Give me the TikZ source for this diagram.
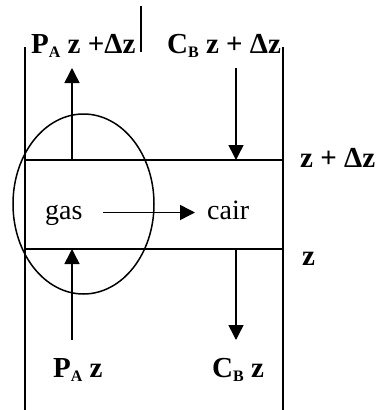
\documentclass[tikz,border=0pt]{standalone}
\usepackage{fontspec}
\setmainfont{Liberation Serif}
\usetikzlibrary{arrows.meta,positioning}

\newcommand{\lowsub}[1]{\raisebox{-4pt}{\fontsize{16}{16}\selectfont #1}}

\begin{document}
\begin{tikzpicture}[x=1pt, y=-1pt,
    every node/.style={font=\fontsize{28}{30}\selectfont, inner sep=0pt},
    lbl/.style={font=\fontsize{29}{30}\selectfont\bfseries, anchor=base west},
    fluid/.style={anchor=base west, text height=19pt, text depth=6pt},
    wall/.style={line width=1.5pt},
    arr/.style={line width=1.5pt, -{Triangle[length=15pt,width=15pt]}}
]
    \useasboundingbox (0,0) rectangle (381,410);

    % column walls and film boundaries
    \draw[wall] (25,47) -- (25,410);
    \draw[wall] (283,47) -- (283,410);
    \draw[wall] (141,6) -- (141,52);
    \draw[wall] (25,160) -- (283,160);
    \draw[wall] (25,249) -- (283,249);
    \draw[wall] (83.5,204) ellipse [x radius=70.5pt, y radius=90pt];

    % labels
    \node[lbl] (patop) at (31,53) {P\lowsub{A} z +Δz};
    \node[lbl] (cbtop) at (167,53) {C\lowsub{B} z + Δz};
    \node[lbl] (pabot) at (53,377) {P\lowsub{A} z};
    \node[lbl] (cbbot) at (212,377) {C\lowsub{B} z};
    \node[lbl] (zdz) at (300,167) {z + Δz};
    \node[lbl] (zlev) at (302,265) {z};
    \node[fluid] (gas) at (45,219) {gas};
    \node[fluid] (cair) at (207,219) {cair};

    % fluxes
    \coordinate (pain) at (72,340);
    \coordinate (paup) at (72,249);
    \coordinate (paout) at (72,160);
    \coordinate (patip) at (72,68);
    \coordinate (cbin) at (236,68);
    \coordinate (cbdown) at (236,160);
    \coordinate (cbout) at (236,249);
    \coordinate (cbtip) at (236,340);

    \draw[arr] (pain) -- (paup);
    \draw[arr] (paout) -- (patip);
    \draw[arr] (cbin) -- (cbdown);
    \draw[arr] (cbout) -- (cbtip);
    \draw[arr, shorten <=20pt, shorten >=12pt] (gas.east) -- (cair.west);
\end{tikzpicture}
\end{document}
